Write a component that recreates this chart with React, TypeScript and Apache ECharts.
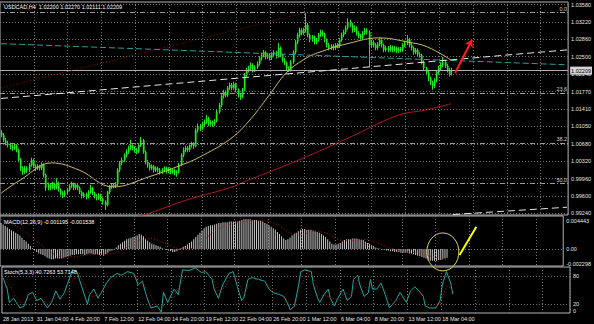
import React, { useEffect, useRef } from "react";
import * as echarts from "echarts";

// ---------- texts ----------
const symbolTitle = "USDCAD,H4  1.02200 1.02270 1.02111 1.02209";
const macdTitle = "MACD(12,26,9) -0.001195 -0.001538";
const stochTitle = "Stoch(5,3,3) 40.7263 53.7148";

// ---------- axes ----------
const priceTicks = [1.0358, 1.0322, 1.0286, 1.025, 1.0214, 1.0177, 1.0141, 1.0105, 1.0068, 1.0032, 0.9996, 0.996, 0.9924];
const timeLabels = ["28 Jan 2013", "31 Jan 04:00", "4 Feb 20:00", "7 Feb 12:00", "12 Feb 04:00", "14 Feb 20:00", "19 Feb 12:00", "22 Feb 04:00", "26 Feb 20:00", "1 Mar 12:00", "6 Mar 04:00", "8 Mar 20:00", "13 Mar 12:00", "18 Mar 04:00"];
const barsPerLabel = 16;
const totalSlots = 269;
const macdTicks = [0.004443, 0, -0.002298];
const macdTickText = ["0.004443", "0.00", "-0.002298"];
const stochTicks = [100, 80, 20, 0];

// ---------- price candles [open, close, low, high] ----------
const candles = [
[1.0092,1.0087,1.0082,1.0097],[1.0087,1.0076,1.0072,1.0091],[1.0076,1.0070,1.0065,1.0081],[1.0070,1.0066,1.0061,1.0075],[1.0066,1.0062,1.0057,1.0071],
[1.0062,1.0060,1.0054,1.0068],[1.0060,1.0064,1.0056,1.0070],[1.0064,1.0056,1.0051,1.0068],[1.0056,1.0035,1.0030,1.0059],[1.0035,1.0018,1.0012,1.0039],
[1.0018,1.0010,1.0004,1.0022],[1.0010,1.0018,1.0006,1.0023],[1.0018,1.0014,1.0008,1.0022],[1.0014,1.0025,1.0010,1.0029],[1.0025,1.0035,1.0021,1.0040],
[1.0035,1.0022,1.0018,1.0038],[1.0022,1.0018,1.0012,1.0026],[1.0018,1.0022,1.0014,1.0027],[1.0022,1.0018,1.0013,1.0025],[1.0018,1.0025,1.0014,1.0030],
[1.0025,1.0004,0.9999,1.0028],[1.0004,0.9977,0.9971,1.0007],[0.9977,0.9983,0.9972,0.9988],[0.9983,0.9977,0.9972,0.9987],[0.9977,0.9985,0.9974,0.9990],
[0.9985,0.9977,0.9973,0.9988],[0.9977,0.9987,0.9974,0.9997],[0.9987,0.9973,0.9969,0.9990],[0.9973,0.9966,0.9961,0.9976],[0.9966,0.9962,0.9956,0.9970],
[0.9962,0.9968,0.9958,0.9972],[0.9968,0.9973,0.9964,0.9977],[0.9973,0.9981,0.9970,0.9985],[0.9981,0.9985,0.9977,0.9990],[0.9985,0.9977,0.9972,0.9988],
[0.9977,0.9983,0.9973,0.9987],[0.9983,0.9977,0.9972,0.9986],[0.9977,0.9968,0.9964,0.9980],[0.9968,0.9960,0.9955,0.9971],[0.9960,0.9964,0.9956,0.9968],
[0.9964,0.9958,0.9953,0.9967],[0.9958,0.9968,0.9955,0.9972],[0.9968,0.9977,0.9965,0.9983],[0.9977,0.9966,0.9962,0.9979],[0.9966,0.9960,0.9955,0.9969],
[0.9960,0.9956,0.9951,0.9964],[0.9956,0.9962,0.9952,0.9966],[0.9962,0.9954,0.9949,0.9965],[0.9954,0.9948,0.9942,0.9957],[0.9948,0.9941,0.9931,0.9951],
[0.9941,0.9968,0.9938,0.9971],[0.9968,0.9979,0.9964,0.9983],[0.9979,0.9983,0.9975,0.9987],[0.9983,0.9981,0.9976,0.9986],[0.9981,0.9985,0.9977,0.9989],
[0.9985,1.0014,0.9981,1.0018],[1.0014,1.0029,1.0010,1.0033],[1.0029,1.0035,1.0024,1.0040],[1.0035,1.0045,1.0031,1.0049],[1.0045,1.0052,1.0040,1.0057],
[1.0052,1.0060,1.0048,1.0065],[1.0060,1.0066,1.0055,1.0077],[1.0066,1.0060,1.0055,1.0070],[1.0060,1.0056,1.0050,1.0064],[1.0056,1.0052,1.0047,1.0060],
[1.0052,1.0066,1.0049,1.0070],[1.0066,1.0076,1.0062,1.0083],[1.0076,1.0052,1.0048,1.0079],[1.0052,1.0031,1.0026,1.0055],[1.0031,1.0025,1.0019,1.0035],
[1.0025,1.0018,1.0013,1.0029],[1.0018,1.0022,1.0014,1.0026],[1.0022,1.0014,1.0009,1.0025],[1.0014,1.0018,1.0010,1.0022],[1.0018,1.0014,1.0009,1.0021],
[1.0014,1.0010,1.0005,1.0018],[1.0010,1.0014,1.0006,1.0018],[1.0014,1.0018,1.0010,1.0022],[1.0018,1.0012,1.0007,1.0021],[1.0012,1.0016,1.0008,1.0020],
[1.0016,1.0010,1.0005,1.0019],[1.0010,1.0014,1.0006,1.0018],[1.0014,1.0008,1.0003,1.0017],[1.0008,1.0010,1.0000,1.0014],[1.0010,1.0025,1.0007,1.0029],
[1.0025,1.0045,1.0022,1.0049],[1.0045,1.0056,1.0041,1.0061],[1.0056,1.0060,1.0051,1.0065],[1.0060,1.0056,1.0051,1.0064],[1.0056,1.0066,1.0052,1.0070],
[1.0066,1.0068,1.0061,1.0073],[1.0068,1.0064,1.0058,1.0072],[1.0064,1.0097,1.0061,1.0101],[1.0097,1.0106,1.0092,1.0111],[1.0106,1.0101,1.0095,1.0110],
[1.0101,1.0110,1.0097,1.0115],[1.0110,1.0114,1.0105,1.0119],[1.0114,1.0122,1.0110,1.0129],[1.0122,1.0110,1.0105,1.0125],[1.0110,1.0114,1.0106,1.0118],
[1.0114,1.0110,1.0104,1.0117],[1.0110,1.0116,1.0106,1.0120],[1.0116,1.0135,1.0113,1.0139],[1.0135,1.0149,1.0131,1.0154],[1.0149,1.0168,1.0145,1.0172],
[1.0168,1.0176,1.0163,1.0181],[1.0176,1.0170,1.0165,1.0180],[1.0170,1.0185,1.0166,1.0189],[1.0185,1.0191,1.0180,1.0196],[1.0191,1.0185,1.0180,1.0195],
[1.0185,1.0193,1.0181,1.0198],[1.0193,1.0181,1.0176,1.0196],[1.0181,1.0170,1.0165,1.0184],[1.0170,1.0166,1.0160,1.0174],[1.0166,1.0181,1.0163,1.0185],
[1.0181,1.0212,1.0178,1.0216],[1.0212,1.0222,1.0208,1.0227],[1.0222,1.0226,1.0217,1.0231],[1.0226,1.0233,1.0221,1.0238],[1.0233,1.0222,1.0217,1.0236],
[1.0222,1.0228,1.0218,1.0232],[1.0228,1.0235,1.0224,1.0240],[1.0235,1.0247,1.0231,1.0251],[1.0247,1.0253,1.0242,1.0258],[1.0253,1.0259,1.0249,1.0264],
[1.0259,1.0249,1.0244,1.0262],[1.0249,1.0253,1.0245,1.0257],[1.0253,1.0247,1.0242,1.0257],[1.0247,1.0255,1.0243,1.0259],[1.0255,1.0259,1.0250,1.0263],
[1.0259,1.0251,1.0246,1.0262],[1.0251,1.0268,1.0248,1.0278],[1.0268,1.0253,1.0249,1.0271],[1.0253,1.0243,1.0238,1.0256],[1.0243,1.0237,1.0232,1.0247],
[1.0237,1.0226,1.0221,1.0240],[1.0226,1.0222,1.0218,1.0230],[1.0222,1.0239,1.0219,1.0243],[1.0239,1.0259,1.0235,1.0263],[1.0259,1.0280,1.0255,1.0285],
[1.0280,1.0295,1.0276,1.0300],[1.0295,1.0305,1.0290,1.0310],[1.0305,1.0299,1.0294,1.0309],[1.0299,1.0305,1.0295,1.0310],[1.0305,1.0316,1.0300,1.0341],
[1.0316,1.0295,1.0290,1.0320],[1.0295,1.0285,1.0280,1.0298],[1.0285,1.0291,1.0281,1.0295],[1.0291,1.0280,1.0275,1.0294],[1.0280,1.0285,1.0276,1.0289],
[1.0285,1.0295,1.0281,1.0299],[1.0295,1.0301,1.0291,1.0306],[1.0301,1.0297,1.0292,1.0305],[1.0297,1.0285,1.0280,1.0300],[1.0285,1.0274,1.0269,1.0288],
[1.0274,1.0268,1.0263,1.0278],[1.0268,1.0272,1.0264,1.0276],[1.0272,1.0268,1.0263,1.0276],[1.0268,1.0274,1.0264,1.0278],[1.0274,1.0272,1.0267,1.0278],
[1.0272,1.0285,1.0268,1.0289],[1.0285,1.0295,1.0281,1.0300],[1.0295,1.0301,1.0291,1.0306],[1.0301,1.0310,1.0297,1.0315],[1.0310,1.0322,1.0306,1.0330],
[1.0322,1.0316,1.0311,1.0327],[1.0316,1.0305,1.0300,1.0320],[1.0305,1.0310,1.0301,1.0315],[1.0310,1.0299,1.0294,1.0313],[1.0299,1.0293,1.0288,1.0303],
[1.0293,1.0289,1.0284,1.0297],[1.0289,1.0299,1.0285,1.0303],[1.0299,1.0305,1.0295,1.0310],[1.0305,1.0301,1.0296,1.0309],[1.0301,1.0274,1.0228,1.0305],
[1.0274,1.0280,1.0269,1.0285],[1.0280,1.0274,1.0269,1.0284],[1.0274,1.0268,1.0263,1.0278],[1.0268,1.0276,1.0264,1.0280],[1.0276,1.0285,1.0272,1.0290],
[1.0285,1.0274,1.0269,1.0289],[1.0274,1.0264,1.0259,1.0277],[1.0264,1.0268,1.0260,1.0272],[1.0268,1.0264,1.0259,1.0272],[1.0264,1.0270,1.0260,1.0274],
[1.0270,1.0264,1.0259,1.0273],[1.0264,1.0268,1.0260,1.0272],[1.0268,1.0262,1.0257,1.0271],[1.0262,1.0266,1.0258,1.0270],[1.0266,1.0264,1.0259,1.0270],
[1.0264,1.0274,1.0260,1.0278],[1.0274,1.0278,1.0270,1.0283],[1.0278,1.0285,1.0274,1.0295],[1.0285,1.0274,1.0269,1.0289],[1.0274,1.0268,1.0263,1.0278],
[1.0268,1.0259,1.0254,1.0271],[1.0259,1.0264,1.0255,1.0268],[1.0264,1.0255,1.0250,1.0267],[1.0255,1.0253,1.0248,1.0259],[1.0253,1.0239,1.0234,1.0256],
[1.0239,1.0226,1.0221,1.0242],[1.0226,1.0217,1.0211,1.0229],[1.0217,1.0205,1.0199,1.0220],[1.0205,1.0197,1.0191,1.0208],[1.0197,1.0189,1.0181,1.0200],
[1.0189,1.0201,1.0185,1.0205],[1.0201,1.0218,1.0197,1.0222],[1.0218,1.0226,1.0213,1.0231],[1.0226,1.0233,1.0221,1.0238],[1.0233,1.0239,1.0228,1.0249],
[1.0239,1.0231,1.0226,1.0243],[1.0231,1.0222,1.0217,1.0235],[1.0222,1.0214,1.0209,1.0226],[1.0220,1.02209,1.0211,1.0227]
];

// ---------- moving averages [bar, price] ----------
const maFast = [[0,0.9966],[9,0.9993],[24,1.0029],[37,1.0014],[53,0.9979],[70,1.0000],[88,1.0029],[94,1.0041],[108,1.0077],[117,1.0114],[127,1.0170],[135,1.0216],[143,1.0243],[150,1.0258],[165,1.0278],[179,1.0289],[193,1.0280],[202,1.0270],[213,1.0243]];
const maSlow = [[56,0.9900],[60,0.9912],[70,0.9924],[88,0.9952],[108,0.9977],[117,0.9993],[141,1.0035],[165,1.0082],[188,1.0128],[201,1.0139],[213,1.0152]];

// ---------- drawn objects ----------
const bidPrice = 1.02209;
const fiboPct = ["0.0", "23.6", "38.2", "50.0"];
const fiboPrices = [1.03414, 1.01737, 1.007, 0.99861];
const fiboDiagonal = [[0, 1.0185], [144, 1.0341]];
const cyanLine = [[0, 1.0277], [268, 1.0233]];
const upperTrend = [[0, 1.0163], [268, 1.0264]];
const lowerTrend = [[214, 0.99216], [268, 0.99368]];
const redArrow = [[215, 1.0216], [223, 1.0285]];
const macdArrow = [[219, -0.0008], [227, 0.003]];
const ellipseCenter = [211, -0.0004];

// ---------- MACD ----------
const macdMain = [
0.0035,0.0033,0.0031,0.0029,0.0027,0.0025,0.0024,0.0022,0.0020,0.0018,
0.0015,0.0012,0.0010,0.0007,0.0004,0.0001,-0.0002,-0.0004,-0.0006,-0.0007,
-0.0008,-0.0010,-0.0012,-0.0013,-0.0014,-0.0014,-0.0013,-0.0013,-0.0013,-0.0013,
-0.0012,-0.0011,-0.0010,-0.0009,-0.0008,-0.0008,-0.0007,-0.0007,-0.0007,-0.0007,
-0.0008,-0.0007,-0.0006,-0.0006,-0.0007,-0.0007,-0.0007,-0.0008,-0.0008,-0.0009,
-0.0007,-0.0005,-0.0003,-0.0002,-0.0001,0.0002,0.0005,0.0007,0.0009,0.0011,
0.0013,0.0014,0.0015,0.0016,0.0017,0.0018,0.0020,0.0019,0.0017,0.0014,
0.0011,0.0009,0.0007,0.0006,0.0005,0.0004,0.0003,0.0001,0.00003,-0.0001,
-0.0002,-0.0003,-0.0004,-0.0004,-0.0003,-0.0001,0.0001,0.0003,0.0004,0.0006,
0.0008,0.0010,0.0013,0.0016,0.0019,0.0022,0.0025,0.0028,0.0030,0.0031,
0.0032,0.0032,0.0033,0.0034,0.0035,0.0035,0.0036,0.0036,0.0036,0.0037,
0.0037,0.0037,0.0037,0.0037,0.0038,0.0039,0.0040,0.0040,0.0040,0.0040,
0.0039,0.0039,0.0039,0.0038,0.0038,0.0037,0.0035,0.0034,0.0032,0.0030,
0.0028,0.0026,0.0023,0.0020,0.0017,0.0014,0.0012,0.0013,0.0015,0.0018,
0.0020,0.0022,0.0024,0.0026,0.0027,0.0027,0.0026,0.0026,0.0026,0.0025,
0.0024,0.0023,0.0022,0.0020,0.0018,0.0016,0.0013,0.0010,0.0007,0.0006,
0.0006,0.0007,0.0008,0.0010,0.0012,0.0013,0.0013,0.0013,0.0014,0.0014,
0.0014,0.0013,0.0012,0.0012,0.0010,0.0008,0.0007,0.0005,0.0004,0.0002,
0.0001,0.00003,-0.0001,-0.0001,-0.0002,-0.0002,-0.0003,-0.0003,-0.0004,-0.0004,
-0.0004,-0.0005,-0.0005,-0.0005,-0.0005,-0.0006,-0.0006,-0.0007,-0.0008,-0.0009,
-0.0010,-0.0011,-0.0012,-0.0013,-0.0015,-0.0016,-0.0016,-0.0016,-0.0016,-0.0015,
-0.0015,-0.0014,-0.0013,-0.001195
];
const macdSignal = [[0,0.0040],[6,0.0033],[12,0.0022],[18,0.0008],[24,-0.0005],[30,-0.0011],[36,-0.0010],[42,-0.0008],[48,-0.0007],[54,-0.0006],[60,0.0002],[66,0.0012],[72,0.0014],[78,0.0008],[84,0.0001],[90,0.0000],[96,0.0010],[102,0.0024],[108,0.0032],[114,0.0036],[120,0.0038],[126,0.0038],[132,0.0033],[138,0.0022],[144,0.0020],[150,0.0024],[156,0.0021],[162,0.0012],[168,0.0011],[174,0.0013],[180,0.0008],[186,0.0001],[192,-0.0003],[198,-0.0005],[204,-0.0009],[210,-0.0013],[213,-0.001538]];

// ---------- Stochastic ----------
const stochMain = [[0,77],[2,52],[3,23],[5,32],[8,11],[10,15],[12,40],[14,45],[16,27],[18,32],[21,11],[23,23],[25,48],[27,30],[29,44],[33,94],[35,90],[37,61],[40,19],[41,40],[43,52],[45,32],[47,48],[49,65],[51,77],[54,86],[56,82],[59,90],[62,86],[64,61],[66,69],[68,36],[70,11],[73,15],[75,2],[76,45],[78,23],[81,52],[83,40],[85,94],[88,92],[91,98],[94,88],[96,90],[99,73],[100,52],[102,32],[104,61],[107,86],[109,90],[111,57],[113,27],[114,32],[116,73],[118,77],[121,73],[124,69],[126,52],[128,44],[131,40],[133,36],[135,19],[136,7],[138,15],[140,61],[141,90],[143,94],[146,90],[147,61],[149,32],[150,23],[152,40],[154,52],[155,32],[157,15],[158,27],[160,44],[161,52],[163,27],[165,36],[166,73],[168,82],[169,61],[171,36],[173,44],[174,73],[175,52],[177,52],[179,65],[181,40],[183,11],[186,27],[188,45],[191,23],[193,48],[195,57],[197,48],[199,36],[200,15],[202,11],[205,11],[207,27],[208,61],[210,90],[212,65],[213,40.7263]];
const stochSignal = [[0,85],[3,60],[6,35],[9,18],[12,28],[15,38],[18,30],[21,22],[24,30],[27,38],[30,40],[33,70],[36,88],[39,55],[42,35],[45,40],[48,45],[51,65],[54,80],[57,85],[60,87],[63,80],[66,68],[69,45],[72,20],[75,10],[78,30],[81,35],[84,60],[87,85],[90,93],[93,93],[96,90],[99,80],[102,48],[105,55],[108,80],[111,75],[114,38],[117,62],[120,75],[123,72],[126,60],[129,46],[132,38],[135,25],[138,12],[141,58],[144,88],[147,80],[150,38],[153,38],[156,32],[159,28],[162,45],[165,38],[168,72],[171,55],[174,55],[177,55],[180,55],[183,30],[186,25],[189,35],[192,38],[195,50],[198,45],[201,20],[204,12],[207,20],[210,58],[213,53.7148]];

const FONT = "Liberation Sans";
const FS = 5.5;
const LABEL_COLOR = "#e6e6e6";
const GRID_LINE = { color: "#767676", width: 1, type: [1, 2] as any };
const FRAME = "#b4b4b4";
const CANDLE = "#1fe61f";

const categories = Array.from({ length: totalSlots }, (_, i) => String(i));

function near(a: number, b: number) {
  return Math.abs(a - b) < 1e-9;
}

export default function App() {
  const ref = useRef<HTMLDivElement | null>(null);

  useEffect(() => {
    if (!ref.current) return;
    const chart = echarts.init(ref.current, undefined, { renderer: "svg" });

    const splitEvery = (i: number) => i > 0 && i % barsPerLabel === 0;
    const xAxisBase = (gridIndex: number, showLabels: boolean) => ({
      type: "category",
      gridIndex,
      data: categories,
      boundaryGap: true,
      axisLine: { show: false },
      axisTick: { show: false },
      splitLine: { show: true, interval: (i: number) => splitEvery(i), lineStyle: GRID_LINE },
      axisLabel: {
        show: showLabels,
        interval: (i: number) => i % barsPerLabel === 0 && i / barsPerLabel < timeLabels.length,
        formatter: (v: string) => timeLabels[Number(v) / barsPerLabel] ?? "",
        align: "left",
        color: LABEL_COLOR,
        fontSize: FS,
        fontFamily: FONT,
        margin: 3,
        hideOverlap: false,
      },
    });

    const gridBase = { left: 0, right: 24, show: true, borderColor: FRAME, borderWidth: 1, backgroundColor: "transparent" };

    const candleData = candles.map((r, j) => [j, r[0], r[1], r[2], r[3]]);

    const option: any = {
      animation: false,
      backgroundColor: "#000000",
      textStyle: { fontFamily: FONT },
      grid: [
        { ...gridBase, top: 2, height: 213 },
        { ...gridBase, top: 216, height: 50 },
        { ...gridBase, top: 267, height: 46 },
      ],
      xAxis: [xAxisBase(0, false), xAxisBase(1, false), xAxisBase(2, true)],
      yAxis: [
        {
          type: "value",
          gridIndex: 0,
          position: "right",
          min: 0.99206,
          max: 1.03636,
          splitLine: { show: false },
          axisLine: { show: false },
          axisTick: { show: false },
          axisLabel: {
            customValues: priceTicks,
            formatter: (v: number) => v.toFixed(5),
            color: LABEL_COLOR,
            fontSize: FS,
            fontFamily: FONT,
            margin: 3,
          },
        },
        {
          type: "value",
          gridIndex: 1,
          position: "right",
          min: -0.002298,
          max: 0.004443,
          splitLine: { show: false },
          axisLine: { show: false },
          axisTick: { show: false },
          axisLabel: {
            customValues: macdTicks,
            formatter: (v: number) => {
              const i = macdTicks.findIndex((t) => near(t, v));
              const t = i >= 0 ? macdTickText[i] : String(v);
              if (i === 0) return "{top|" + t + "}";
              if (i === 2) return "{bot|" + t + "}";
              return "{mid|" + t + "}";
            },
            rich: {
              top: { padding: [10, 0, 0, 0], color: LABEL_COLOR, fontSize: FS, fontFamily: FONT },
              bot: { padding: [0, 0, 4, 0], color: LABEL_COLOR, fontSize: FS, fontFamily: FONT },
              mid: { color: LABEL_COLOR, fontSize: FS, fontFamily: FONT },
            },
            color: LABEL_COLOR,
            fontSize: FS,
            fontFamily: FONT,
            margin: 3,
          },
        },
        {
          type: "value",
          gridIndex: 2,
          position: "right",
          min: 0,
          max: 100,
          splitLine: { show: false },
          axisLine: { show: false },
          axisTick: { show: false },
          axisLabel: {
            customValues: stochTicks,
            formatter: (v: number) => {
              if (near(v, 100)) return "{top|100}";
              if (near(v, 0)) return "{bot|0}";
              return "{mid|" + v + "}";
            },
            rich: {
              top: { padding: [8, 0, 0, 0], color: LABEL_COLOR, fontSize: FS, fontFamily: FONT },
              bot: { padding: [0, 0, 4, 0], color: LABEL_COLOR, fontSize: FS, fontFamily: FONT },
              mid: { color: LABEL_COLOR, fontSize: FS, fontFamily: FONT },
            },
            color: LABEL_COLOR,
            fontSize: FS,
            fontFamily: FONT,
            margin: 3,
          },
        },
      ],
      series: [
        {
          name: "MA slow",
          type: "line",
          xAxisIndex: 0,
          yAxisIndex: 0,
          data: maSlow,
          smooth: 0.4,
          showSymbol: false,
          lineStyle: { color: "#b01818", width: 1 },
          markLine: {
            silent: true,
            precision: 6,
            symbol: "none",
            label: { show: false },
            lineStyle: GRID_LINE,
            data: priceTicks.map((v) => ({ yAxis: v })),
          },
        },
        {
          name: "USDCAD",
          type: "custom",
          xAxisIndex: 0,
          yAxisIndex: 0,
          data: candleData,
          encode: { x: 0, y: [1, 2, 3, 4] },
          renderItem: (params: any, api: any) => {
            const j = api.value(0);
            const o = api.value(1);
            const c = api.value(2);
            const l = api.value(3);
            const h = api.value(4);
            const pH = api.coord([j, h]);
            const pL = api.coord([j, l]);
            const pO = api.coord([j, o]);
            const pC = api.coord([j, c]);
            const cx = Math.round(pH[0]) + 0.5;
            const top = Math.min(pO[1], pC[1]);
            const hgt = Math.max(1, Math.abs(pO[1] - pC[1]));
            return {
              type: "group",
              children: [
                { type: "line", shape: { x1: cx, y1: pH[1], x2: cx, y2: pL[1] }, style: { stroke: CANDLE, lineWidth: 1 } },
                { type: "rect", shape: { x: cx - 0.7, y: top, width: 1.8, height: hgt }, style: { fill: CANDLE } },
              ],
            };
          },
        },
        {
          name: "MA fast",
          type: "line",
          xAxisIndex: 0,
          yAxisIndex: 0,
          data: maFast,
          smooth: 0.4,
          showSymbol: false,
          lineStyle: { color: "#cdbb64", width: 1 },
          markLine: {
            silent: true,
            precision: 6,
            symbol: "none",
            symbolSize: 7,
            label: { show: false },
            data: [
              ...fiboPrices.map((p, i) => ({
                yAxis: p,
                lineStyle: { color: "#9c9c9c", width: 1, type: [5, 2, 1, 2] },
                label: { show: true, position: "insideEndTop", formatter: fiboPct[i], color: "#cfcfcf", fontSize: FS, fontFamily: FONT, distance: 1 },
              })),
              {
                yAxis: bidPrice,
                lineStyle: { color: "#b0b0b0", width: 1, type: "solid" },
                label: {
                  show: true,
                  position: "end",
                  formatter: bidPrice.toFixed(5),
                  backgroundColor: "#d4d4d4",
                  color: "#000000",
                  fontSize: FS,
                  fontFamily: FONT,
                  padding: [1, 1],
                  distance: 2,
                },
              },
              [
                { coord: fiboDiagonal[0], lineStyle: { color: "#8c1010", width: 1, type: [1, 2] } },
                { coord: fiboDiagonal[1] },
              ],
              [
                { coord: cyanLine[0], lineStyle: { color: "#2f9c9c", width: 1, type: [6, 3] } },
                { coord: cyanLine[1] },
              ],
              [
                { coord: upperTrend[0], lineStyle: { color: "#e6e6e6", width: 1, type: [7, 4] } },
                { coord: upperTrend[1] },
              ],
              [
                { coord: lowerTrend[0], lineStyle: { color: "#e6e6e6", width: 1, type: [7, 4] } },
                { coord: lowerTrend[1] },
              ],
              [
                { coord: redArrow[0], symbol: "none", lineStyle: { color: "#ff1c1c", width: 2, type: "solid" } },
                { coord: redArrow[1], symbol: "arrow", symbolSize: 7 },
              ],
            ],
          },
        },
        {
          name: "MACD",
          type: "bar",
          xAxisIndex: 1,
          yAxisIndex: 1,
          data: macdMain,
          barWidth: 1,
          itemStyle: { color: "#c8c8c8" },
          markLine: {
            silent: true,
            precision: 8,
            symbol: "none",
            label: { show: false },
            data: [
              { yAxis: 0, lineStyle: GRID_LINE },
              [
                { coord: macdArrow[0], lineStyle: { color: "#ffff00", width: 2, type: "solid" } },
                { coord: macdArrow[1] },
              ],
            ],
          },
        },
        {
          name: "Signal",
          type: "line",
          xAxisIndex: 1,
          yAxisIndex: 1,
          data: macdSignal,
          smooth: 0.3,
          showSymbol: false,
          lineStyle: { color: "#b01818", width: 1, type: [1, 2] },
        },
        {
          name: "Stoch",
          type: "line",
          xAxisIndex: 2,
          yAxisIndex: 2,
          data: stochMain,
          showSymbol: false,
          lineStyle: { color: "#20a8a0", width: 1 },
          markLine: {
            silent: true,
            precision: 4,
            symbol: "none",
            label: { show: false },
            lineStyle: GRID_LINE,
            data: [{ yAxis: 80 }, { yAxis: 20 }],
          },
        },
        {
          name: "Stoch signal",
          type: "line",
          xAxisIndex: 2,
          yAxisIndex: 2,
          data: stochSignal,
          showSymbol: false,
          lineStyle: { color: "#a01818", width: 1, type: [1, 2] },
        },
      ],
      graphic: [
        { type: "text", id: "t0", left: 4, top: 4, z: 50, style: { text: symbolTitle, fill: "#ffffff", fontSize: FS, fontFamily: FONT } },
        { type: "text", id: "t1", left: 4, top: 219, z: 50, style: { text: macdTitle, fill: "#ffffff", fontSize: FS, fontFamily: FONT } },
        { type: "text", id: "t2", left: 4, top: 269, z: 50, style: { text: stochTitle, fill: "#ffffff", fontSize: FS, fontFamily: FONT } },
      ],
    };

    chart.setOption(option);

    const c = chart.convertToPixel({ xAxisIndex: 1, yAxisIndex: 1 } as any, ellipseCenter) as number[];
    if (c && isFinite(c[0]) && isFinite(c[1])) {
      chart.setOption({
        graphic: [
          {
            type: "ellipse",
            id: "ring",
            z: 60,
            shape: { cx: c[0], cy: c[1], rx: 16, ry: 19 },
            style: { fill: "none", stroke: "#dccf5a", lineWidth: 1 },
          },
        ],
      });
    }

    return () => {
      chart.dispose();
    };
  }, []);

  return (
    <div
      ref={ref}
      style={{ position: "fixed", left: 0, top: 0, width: 594, height: 324, background: "#000" }}
    />
  );
}
